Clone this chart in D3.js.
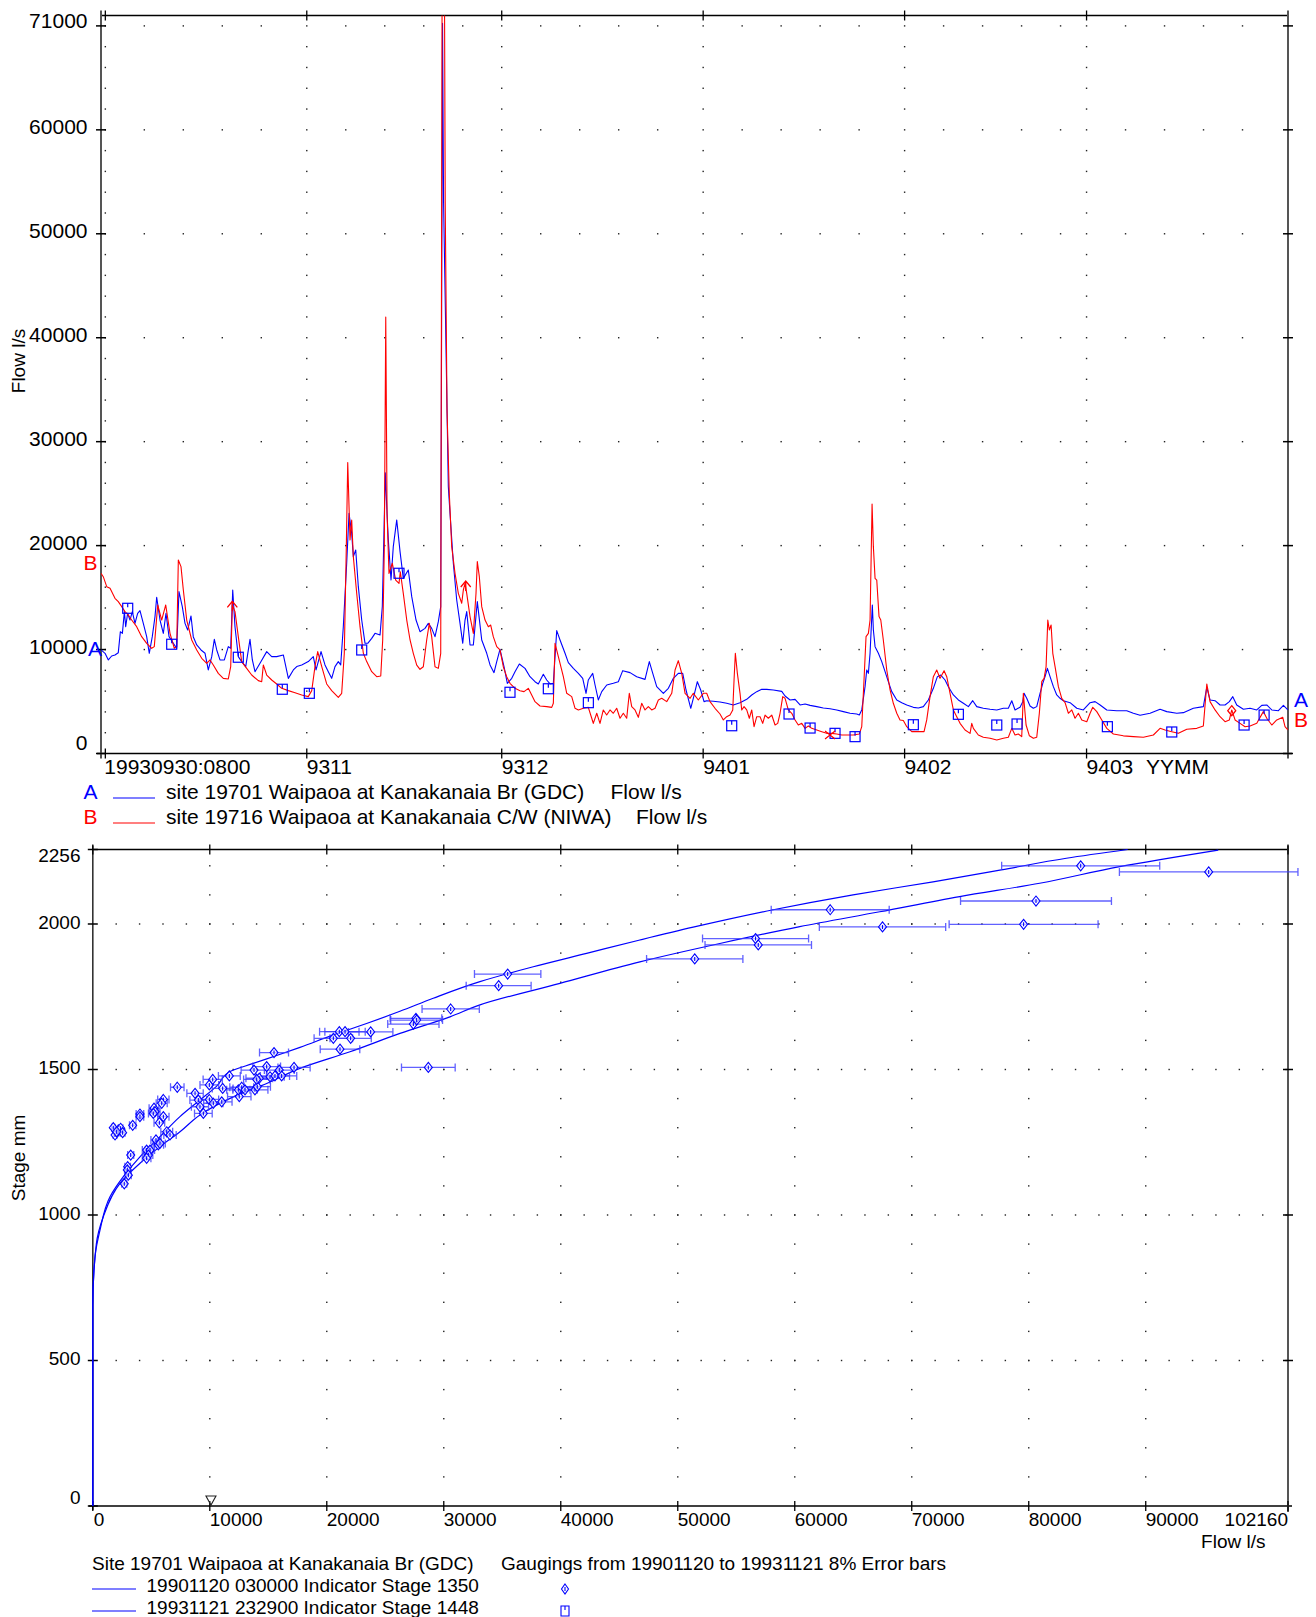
<!DOCTYPE html>
<html><head><meta charset="utf-8">
<script src="https://cdn.jsdelivr.net/npm/d3@7"></script>
<style>
body{margin:0;background:#fff;}
svg text{font-family:"Liberation Sans",Arial,sans-serif;fill:#000;}
</style></head><body>
<svg id="c" width="1316" height="1617"></svg>
<script>
// ---------- Flow record (days since 1993-09-30 08:00, flow l/s) ----------
const seriesStart = Date.UTC(1993, 8, 30, 8, 0);
const seriesEnd = Date.UTC(1994, 3, 1, 0, 0);
const monthStarts = [[1993,9],[1993,10],[1993,11],[1994,0],[1994,1],[1994,2]];
const monthLabels = ["", "9311", "9312", "9401", "9402", "9403"];
const flowTicks = [0, 10000, 20000, 30000, 40000, 50000, 60000, 70000];
const flowMax = 71000;

// A: site 19701 Waipaoa at Kanakanaia Br (GDC)
const flowA = [[0,9970],[0.62,9640],[1.13,9000],[1.64,9380],[2.15,9480],[2.66,9700],[2.98,11720],[3.29,11560],[3.6,13650],[3.8,12200],[4.1,13490],[4.46,12840],[4.82,13650],[5.23,12520],[5.64,13490],[6,13740],[6.51,12520],[7.03,11240],[7.43,9640],[7.89,11240],[8.31,13170],[8.57,15030],[9.08,12840],[9.59,11560],[10,13490],[10.47,11240],[11.13,10600],[11.65,10120],[12,15570],[12.51,14130],[12.93,12520],[13.34,11880],[13.85,13230],[14.2,11240],[14.73,10440],[15.39,9960],[16.01,9640],[16.51,8040],[17.04,9320],[17.44,10980],[17.81,9960],[18.31,9000],[18.98,9000],[19.59,10280],[19.96,10120],[20.27,15730],[20.62,12200],[21.13,9320],[21.65,8840],[22.27,8350],[22.93,10980],[23.29,9000],[23.7,7870],[24.47,8680],[25.5,9800],[26.27,9320],[27.04,9320],[28.06,9480],[28.83,7230],[29.6,8040],[30.12,8360],[30.89,8520],[31.9,8840],[32.67,9320],[33.09,8040],[33.86,9800],[34.47,8520],[34.98,7870],[35.5,7230],[36.01,8360],[36.52,8840],[36.89,8520],[37.29,12200],[37.81,18300],[38.17,23110],[38.58,21180],[38.83,18940],[39.2,19580],[39.6,16050],[40.12,12840],[40.63,10600],[41.05,10600],[41.66,11080],[42.17,11560],[42.94,11400],[43.29,14130],[43.75,27000],[44.1,22000],[44.22,20540],[44.63,16690],[44.98,19900],[45.51,22470],[46.02,19420],[46.52,16850],[47.29,17650],[47.82,15090],[48.48,12840],[49.09,11720],[49.86,12040],[50.37,12520],[50.89,12040],[51.4,11240],[51.91,12680],[52.28,14130],[52.56,70250],[52.72,53000],[53.45,25670],[53.71,23110],[54.22,18300],[54.74,14770],[55.25,12520],[55.67,10600],[56.02,12840],[56.28,13650],[56.79,10440],[57.3,10440],[57.91,14610],[58.59,10920],[59.36,9640],[59.87,8520],[60.48,7780],[60.9,8840],[61.4,10020],[62.02,8360],[62.53,6750],[63.21,7230],[63.71,7870],[64.38,8610],[65.25,8190],[66.02,7390],[66.79,6910],[67.3,6690],[68.07,7620],[68.59,7070],[69.1,6690],[69.61,6750],[70.13,11820],[70.64,10920],[71.41,9640],[71.92,8740],[72.69,8190],[73.46,7710],[74.13,7230],[74.64,5790],[74.99,7070],[75.67,7710],[76.03,6590],[76.53,5150],[77.06,5950],[77.83,6590],[78.84,6750],[79.61,6910],[80.29,7970],[81.41,7780],[82.44,7390],[83.72,7130],[84.38,8840],[84.91,7710],[85.52,6430],[86.54,5790],[87.31,6270],[88.08,7230],[88.84,7710],[89.52,7710],[90.03,6110],[90.76,4350],[91.15,5310],[91.77,6910],[92.29,6110],[92.8,4990],[93.21,5080],[94.23,5020],[95.26,4960],[96.29,4830],[97.31,4670],[98.34,4890],[99.37,5210],[100.14,5630],[100.91,5950],[101.68,6170],[102.45,6170],[103.47,6110],[104.76,5980],[105.27,5530],[106.04,5150],[106.81,5210],[107.58,4670],[108.35,4760],[109.12,4630],[110.15,4510],[111.16,4380],[112.19,4310],[113.22,4190],[114.24,4030],[115.27,3870],[116.3,3800],[116.7,3710],[117.07,4190],[117.58,6430],[117.84,8040],[118.09,7710],[118.35,9640],[118.7,14290],[118.86,11880],[119.12,10280],[119.63,9640],[120.15,8840],[120.66,7870],[121.16,6910],[121.69,5950],[122.46,5150],[123.23,4890],[124,4670],[125.01,4440],[125.78,4380],[126.55,4510],[127.32,5150],[128.09,6270],[128.71,7390],[129.23,7550],[129.89,7070],[130.4,6430],[131.17,5630],[131.94,5150],[132.71,4830],[133.48,4510],[134.15,5080],[134.77,4510],[135.78,4350],[136.82,4250],[137.85,4190],[138.86,4350],[139.63,4350],[140.16,5080],[140.66,4190],[141.43,4440],[141.85,4990],[142.05,5790],[142.46,5310],[142.97,4570],[143.48,4350],[144,4510],[144.51,5790],[144.93,6750],[145.28,7390],[145.64,8190],[146.05,7390],[146.56,6430],[147.08,5630],[147.59,5310],[148.1,5080],[149.13,4890],[150.16,4350],[151.17,4190],[152.21,4890],[152.98,4990],[153.75,4670],[154.78,4190],[156.31,4120],[157.85,4120],[158.87,3870],[159.9,3680],[161.44,3870],[162.98,4250],[164.01,4030],[165.55,3870],[166.56,3930],[168.1,4350],[169.64,4510],[170.17,6370],[170.67,5150],[171.44,5080],[172.21,4670],[172.98,4670],[173.64,4990],[174.17,5470],[174.78,4670],[175.8,4250],[176.83,4350],[177.86,4190],[178.63,4630],[179.4,4670],[180.17,4190],[181.19,4120],[181.96,4630],[182.65,4190]];

// B: site 19716 Waipaoa at Kanakanaia C/W (NIWA)
const flowB = [[0,17330],[0.35,17010],[0.88,16050],[1.39,15890],[2.15,14930],[2.66,14610],[3.19,14130],[3.69,13650],[4.2,13330],[4.72,12840],[5.49,12200],[6.26,11240],[7.03,10600],[7.8,10120],[8.2,10280],[8.73,14290],[9.34,12840],[9.96,14290],[10.62,11560],[11.28,10120],[11.65,10280],[11.9,18620],[12.31,17980],[12.67,15730],[13.19,12840],[13.96,10920],[14.73,9960],[15.5,9160],[16.27,8680],[16.78,9000],[17.28,8520],[18.05,7710],[18.82,7230],[19.59,7170],[19.96,8360],[20.21,14290],[20.62,13650],[21.13,11240],[21.65,8840],[22.42,8190],[23.19,7550],[24.21,7010],[24.73,6910],[24.98,8520],[25.5,7550],[26.27,7070],[27.04,6690],[27.81,6270],[28.83,6050],[29.86,5850],[30.89,5630],[31.9,5470],[32.43,6050],[32.93,8360],[33.35,9800],[33.97,8360],[34.73,6690],[35.5,6050],[36.52,5400],[37.04,5790],[37.44,9640],[37.75,19900],[37.97,28000],[38.32,20540],[38.58,22470],[38.83,18940],[39.35,15410],[39.86,12200],[40.37,9640],[40.89,8840],[41.66,7870],[42.43,7390],[43.05,7460],[43.35,10920],[43.6,19900],[43.82,42000],[44.02,23110],[44.32,17330],[44.83,18300],[45.35,16690],[45.86,16370],[46.06,17490],[46.52,15410],[47.05,12840],[47.56,10920],[48.06,9640],[48.59,8510],[49.09,8100],[49.6,8350],[50.12,10920],[50.52,12520],[50.89,11240],[51.4,8350],[51.91,8190],[52.28,9640],[52.5,76000],[52.85,75000],[52.97,53000],[53.25,33000],[53.6,25000],[53.97,19900],[54.48,17330],[54.99,15410],[55.51,14450],[55.76,15730],[56.02,16370],[56.28,15400],[56.79,13170],[57.3,11560],[57.71,15410],[57.91,18460],[58.22,17010],[58.59,14130],[59.1,12840],[59.61,12200],[59.97,12360],[60.37,11240],[60.9,10280],[61.4,9960],[61.91,8350],[62.43,7390],[62.94,6750],[63.71,6270],[64.48,6040],[65.1,5950],[65.76,6270],[66.28,5630],[66.79,4990],[67.56,4570],[68.59,4510],[69.36,4440],[69.61,4830],[69.87,10600],[70.38,9320],[71.15,7390],[71.67,5790],[72.44,5470],[72.95,4350],[73.46,4190],[74.23,4350],[74.99,4440],[75.52,3390],[75.76,2900],[76.29,3870],[76.79,2900],[77.3,4190],[77.82,3710],[78.33,4190],[78.84,3870],[79.36,4350],[79.87,3390],[80.38,3870],[80.9,3390],[81.3,5790],[81.67,4510],[82.18,4190],[82.69,3480],[83.21,4830],[83.72,4190],[84.23,4510],[84.75,4190],[85.26,4350],[85.77,5150],[86.29,5310],[87.06,4990],[87.83,5790],[88.34,8030],[88.84,8930],[89.37,7710],[89.88,5790],[90.65,5310],[91.15,5790],[91.92,5150],[92.69,5790],[93.21,5790],[93.72,4990],[94.49,4350],[95.26,3800],[95.77,3230],[96.29,3540],[96.8,3700],[97.22,4190],[97.42,7070],[97.62,9640],[97.93,7710],[98.34,5790],[98.6,4190],[98.96,4510],[99.37,4190],[99.77,3390],[100.14,4190],[100.5,2580],[100.91,3540],[101.42,3540],[101.83,2900],[102.19,3700],[102.7,3390],[103.22,3700],[103.73,2740],[104.14,2900],[104.5,3870],[104.91,5470],[105.27,5310],[105.77,4190],[106.3,3870],[106.81,3230],[107.31,2740],[107.84,2900],[108.35,2420],[108.85,2650],[109.38,2420],[110.15,2260],[110.92,2100],[111.68,1940],[112.45,1940],[113.22,1880],[113.99,1780],[114.76,1780],[115.78,1780],[116.7,1880],[117.07,2580],[117.42,7070],[117.73,11240],[118.09,11560],[118.35,12840],[118.66,24000],[118.86,19900],[119.12,16850],[119.38,16690],[119.73,13170],[120,12840],[120.39,10920],[120.92,8030],[121.43,6110],[121.93,4830],[122.46,3870],[122.96,3230],[123.47,3170],[124,2580],[124.77,2100],[125.54,2100],[126.66,2100],[127.07,3230],[127.58,5470],[128.09,7390],[128.61,8030],[129.12,7230],[129.74,7970],[130.15,7390],[130.66,5790],[131.17,4190],[131.69,3540],[132.2,2900],[132.97,2260],[133.74,1940],[134,2900],[134.25,2420],[135.01,1780],[135.78,1560],[136.82,1460],[137.85,1300],[138.86,1460],[139.63,1560],[140.16,2420],[140.66,1780],[141.17,1880],[141.69,1620],[141.94,5790],[142.36,2740],[142.87,1700],[143.48,1460],[144,1560],[144.4,3870],[144.77,6910],[145.13,7230],[145.44,8360],[145.7,12840],[145.94,11880],[146.21,12360],[146.47,9640],[146.82,8360],[147.33,6430],[147.85,5310],[148.36,4890],[148.87,3870],[149.39,4190],[149.9,3390],[150.41,3870],[150.93,3230],[151.7,3060],[152.21,3870],[152.62,4440],[153.24,4030],[154.01,3230],[154.78,2420],[155.79,1880],[157.33,1700],[158.87,1620],[160.41,1560],[161.95,1780],[162.98,2420],[163.75,2260],[164.78,2100],[165.8,1940],[167.09,2330],[168.63,2420],[169.64,2650],[170.17,6690],[170.67,4990],[171.44,4190],[172.21,3540],[172.98,3060],[173.64,3230],[174.01,4190],[174.52,3230],[175.29,2900],[176.06,2580],[176.83,2650],[177.86,2900],[178.87,4030],[179.4,3390],[180.17,2740],[180.94,3230],[181.86,3480],[182.21,2580],[182.65,2260]];

// gauging marks on the flow plot (days, flow)
const gaugeMarksA = [[4.11,13970],[10.88,10510],[21.13,9260],[27.9,6180],[32.06,5790],[40.12,9960],[45.86,17340],[62.94,5890],[68.84,6230],[75,4890],[97.06,2670],[105.88,3800],[109.12,2450],[112.96,1940],[116.04,1620],[125.01,2770],[131.94,3770],[137.85,2740],[140.97,2840],[154.87,2580],[164.78,2070],[175.91,2740],[178.99,3700]];
const arrowMarksB = [[20.21,14450],[56.13,16400]];
const crossMarksB = [[112.19,1780]];
const diamondMarksB = [[174.01,4120]];

// ---------- Rating curves and gaugings (flow l/s, stage mm) ----------
const stageTicks = [0, 500, 1000, 1500, 2000];
const stageMax = 2256;
const ratingFlowTicks = [0, 10000, 20000, 30000, 40000, 50000, 60000, 70000, 80000, 90000];
const ratingFlowMax = 102160;
const errorFraction = 0.08;

const rating1990 = [[0,0],[0,690],[200,860],[615,948],[1470,1063],[2610,1132],[4030,1200],[5740,1269],[7450,1338],[9160,1395],[10590,1443],[11730,1493],[13720,1521],[15710,1548],[17710,1576],[20560,1619],[23400,1658],[26250,1700],[29100,1745],[33090,1802],[37650,1853],[42205,1899],[46761,1945],[51316,1989],[58060,2048],[64983,2100],[71821,2145],[77650,2186],[83214,2226],[88453,2256]];
const rating1993 = [[0,0],[0,690],[300,900],[898,994],[2325,1109],[4034,1178],[5744,1235],[7453,1286],[9162,1344],[12009,1406],[14863,1452],[17709,1504],[21983,1561],[26256,1624],[30530,1681],[33094,1722],[39932,1796],[46761,1870],[53598,1933],[60427,1991],[67265,2042],[74094,2094],[80932,2140],[87769,2197],[96197,2254]];

const gaugings = [[1750,1300],[1900,1275],[2180,1292],[2380,1298],[2550,1283],[2040,1286],[3410,1308],[4030,1347],[4030,1338],[5230,1367],[5320,1355],[5170,1349],[6030,1397],[5890,1384],[6030,1338],[5690,1317],[6320,1286],[6600,1275],[5400,1258],[5600,1241],[5740,1246],[4600,1223],[4890,1223],[4750,1206],[4600,1195],[3240,1206],[2980,1166],[2950,1155],[3040,1137],[2690,1107],[7220,1439],[8740,1418],[9020,1395],[9160,1372],[9450,1349],[9960,1397],[10300,1384],[9960,1447],[10250,1466],[11100,1435],[11020,1389],[11670,1478],[12520,1407],[12440,1430],[12730,1439],[13010,1430],[13860,1430],[14060,1441],[14230,1470],[14010,1466],[13780,1498],[14860,1510],[15490,1558],[15150,1475],[15570,1478],[15940,1498],[16140,1478],[17200,1507],[20560,1607],[21070,1630],[21560,1630],[22040,1607],[23750,1629],[21130,1570],[28680,1507],[27400,1656],[27620,1676],[27680,1670],[30590,1708],[34690,1788],[35460,1828],[51450,1880],[56650,1950],[56880,1928],[63030,2049],[67500,1990],[79560,1999],[80620,2079],[84440,2200],[95380,2179]];
const currentFlowMark = 10100;

// ---------- drawing ----------
const svg = d3.select("#c");
const BLUE = "#0000ff", RED = "#ff0000";
const dayToDate = d => new Date(seriesStart + d * 864e5);

// ===== Flow plot =====
const tx = d3.scaleUtc().domain([new Date(seriesStart), new Date(seriesEnd)]).range([101, 1288]);
const ty = d3.scaleLinear().domain([0, flowMax]).range([753.5, 15.5]);
const flowG = svg.append("g");
const monthDates = monthStarts.map(([y, m]) => new Date(Date.UTC(y, m, 1)));

flowG.append("clipPath").attr("id", "plotclip").append("rect")
  .attr("x", tx.range()[0]).attr("y", ty(flowMax)).attr("width", tx.range()[1] - tx.range()[0]).attr("height", ty(0) - ty(flowMax));

// dotted grid
const dotG = flowG.append("g").attr("fill", "#222");
const colDates = monthDates.concat([new Date(seriesEnd)]);
colDates.forEach(dt => {
  for (let v = 2000; v <= 70000; v += 2000) {
    dotG.append("rect").attr("x", tx(dt) - 0.7).attr("y", ty(v) - 0.7).attr("width", 1.4).attr("height", 1.4);
  }
});
const rowDates = [];
monthDates.forEach((dt, i) => {
  const next = i + 1 < monthDates.length ? monthDates[i + 1] : new Date(seriesEnd);
  for (let k = 1; k <= 5; k++) {
    const t = new Date(dt.getTime() + k * 6 * 864e5);
    if (next - t > 3 * 864e5) rowDates.push(t);
  }
});
flowTicks.slice(1).forEach(v => {
  rowDates.forEach(dt => {
    dotG.append("rect").attr("x", tx(dt) - 0.7).attr("y", ty(v) - 0.7).attr("width", 1.4).attr("height", 1.4);
  });
});

// frame
const [x0, x1] = tx.range();
flowG.append("line").attr("x1", x0).attr("x2", x1).attr("y1", ty(flowMax)).attr("y2", ty(flowMax)).attr("stroke", "#000").attr("stroke-width", 1.5);
flowG.append("line").attr("x1", x0 - 4).attr("x2", x1 + 4).attr("y1", ty(0)).attr("y2", ty(0)).attr("stroke", "#000").attr("stroke-width", 1.5);
flowG.append("line").attr("x1", x0).attr("x2", x0).attr("y1", ty(flowMax) - 5).attr("y2", ty(0) + 5).attr("stroke", "#555").attr("stroke-width", 2);
flowG.append("line").attr("x1", x1).attr("x2", x1).attr("y1", ty(flowMax) - 5).attr("y2", ty(0) + 5).attr("stroke", "#555").attr("stroke-width", 2);
flowTicks.forEach(v => {
  flowG.append("line").attr("x1", x0 - 5).attr("x2", x0 + 5).attr("y1", ty(v)).attr("y2", ty(v)).attr("stroke", "#000").attr("stroke-width", 1.5);
  flowG.append("line").attr("x1", x1 - 5).attr("x2", x1 + 5).attr("y1", ty(v)).attr("y2", ty(v)).attr("stroke", "#000").attr("stroke-width", 1.5);
});
monthDates.forEach(dt => {
  [ty(0), ty(flowMax)].forEach(yy => flowG.append("line").attr("x1", tx(dt)).attr("x2", tx(dt)).attr("y1", yy - 5).attr("y2", yy + 5).attr("stroke", "#000").attr("stroke-width", 1.3));
});

// tick labels
const tl = flowG.append("g").attr("font-size", 21);
flowTicks.slice(0, -1).forEach(v => {
  tl.append("text").attr("x", 87.5).attr("y", v === 0 ? ty(v) - 4 : ty(v) + 4.5).attr("text-anchor", "end").text(v);
});
tl.append("text").attr("x", 87.5).attr("y", ty(flowMax) + 12.7).attr("text-anchor", "end").text(flowMax);
tl.append("text").attr("x", tx(monthDates[0]) - 1).attr("y", 774).text("19930930:0800");
monthDates.forEach((dt, i) => { if (monthLabels[i]) tl.append("text").attr("x", tx(dt)).attr("y", 774).text(monthLabels[i]); });
tl.append("text").attr("x", 1146).attr("y", 774).text("YYMM");
flowG.append("text").attr("font-size", 19).attr("text-anchor", "middle")
  .attr("transform", "translate(25,361) rotate(-90)").text("Flow l/s");

// series
const line = d3.line().x(d => tx(dayToDate(d[0]))).y(d => ty(d[1]));
const plot = flowG.append("g").attr("clip-path", "url(#plotclip)");
plot.append("path").datum(flowA).attr("d", line).attr("fill", "none").attr("stroke", BLUE).attr("stroke-width", 1.1).attr("stroke-linejoin", "round");
plot.append("path").datum(flowB).attr("d", line).attr("fill", "none").attr("stroke", RED).attr("stroke-width", 1.1).attr("stroke-linejoin", "round");

// marks
gaugeMarksA.forEach(([d, v]) => {
  const g = plot.append("g").attr("transform", `translate(${tx(dayToDate(d))},${ty(v)})`).attr("stroke", BLUE).attr("fill", "none").attr("stroke-width", 1.2);
  g.append("rect").attr("x", -5).attr("y", -5).attr("width", 10).attr("height", 10);
  g.append("line").attr("x1", 0).attr("x2", 0).attr("y1", -5).attr("y2", -1);
});
arrowMarksB.forEach(([d, v]) => {
  plot.append("path").attr("transform", `translate(${tx(dayToDate(d))},${ty(v)})`)
    .attr("d", "M-5,4L0,-2L5,4M0,-2V8").attr("stroke", RED).attr("fill", "none").attr("stroke-width", 1.3);
});
crossMarksB.forEach(([d, v]) => {
  plot.append("path").attr("transform", `translate(${tx(dayToDate(d))},${ty(v)})`)
    .attr("d", "M-5,-4L5,4M-5,4L5,-4").attr("stroke", RED).attr("fill", "none").attr("stroke-width", 1.2);
});
diamondMarksB.forEach(([d, v]) => {
  plot.append("path").attr("transform", `translate(${tx(dayToDate(d))},${ty(v)})`)
    .attr("d", "M0,-5L4,0L0,5L-4,0Z").attr("stroke", RED).attr("fill", "none").attr("stroke-width", 1.3);
});

// series end labels
const endA = flowA[flowA.length - 1], endB = flowB[flowB.length - 1];
flowG.append("text").attr("font-size", 21).style("fill", BLUE).attr("x", 88).attr("y", ty(flowA[0][1]) + 6).text("A");
flowG.append("text").attr("font-size", 21).style("fill", RED).attr("x", 83.5).attr("y", ty(flowB[0][1]) - 3).text("B");
flowG.append("text").attr("font-size", 21).style("fill", BLUE).attr("x", 1294).attr("y", ty(endA[1]) - 3).text("A");
flowG.append("text").attr("font-size", 21).style("fill", RED).attr("x", 1294).attr("y", ty(endB[1]) - 3).text("B");

// legend
const leg = flowG.append("g").attr("font-size", 21);
[["A", BLUE, "site 19701 Waipaoa at Kanakanaia Br (GDC)", 610.5, 799],
 ["B", RED, "site 19716 Waipaoa at Kanakanaia C/W (NIWA)", 636, 824]].forEach(([k, c, t, fx, y]) => {
  leg.append("text").attr("x", 83.5).attr("y", y).style("fill", c).text(k);
  leg.append("line").attr("x1", 113).attr("x2", 155).attr("y1", y - 1).attr("y2", y - 1).attr("stroke", c).attr("stroke-width", 1.2);
  leg.append("text").attr("x", 166).attr("y", y).text(t);
  leg.append("text").attr("x", fx).attr("y", y).text("Flow l/s");
});

// ===== Rating plot =====
const bx = d3.scaleLinear().domain([0, ratingFlowMax]).range([92.8, 1288]);
const by = d3.scaleLinear().domain([0, stageMax]).range([1506, 849.5]);
const bot = svg.append("g");
const bdots = bot.append("g").attr("fill", "#222");
ratingFlowTicks.slice(1).forEach(q => {
  for (let s = 100; s <= 2200; s += 100) bdots.append("rect").attr("x", bx(q) - 0.7).attr("y", by(s) - 0.7).attr("width", 1.4).attr("height", 1.4);
});
stageTicks.slice(1).forEach(s => {
  for (let q = 2000; q < ratingFlowMax; q += 2000) bdots.append("rect").attr("x", bx(q) - 0.7).attr("y", by(s) - 0.7).attr("width", 1.4).attr("height", 1.4);
});
const [bx0, bx1] = bx.range();
bot.append("line").attr("x1", bx0).attr("x2", bx1).attr("y1", by(stageMax)).attr("y2", by(stageMax)).attr("stroke", "#000").attr("stroke-width", 1.5);
bot.append("line").attr("x1", bx0 - 4).attr("x2", bx1 + 4).attr("y1", by(0)).attr("y2", by(0)).attr("stroke", "#000").attr("stroke-width", 1.5);
bot.append("line").attr("x1", bx0).attr("x2", bx0).attr("y1", by(stageMax) - 4).attr("y2", by(0) + 4).attr("stroke", "#333").attr("stroke-width", 1.6);
bot.append("line").attr("x1", bx1).attr("x2", bx1).attr("y1", by(stageMax) - 4).attr("y2", by(0) + 6).attr("stroke", "#555").attr("stroke-width", 2);
stageTicks.concat([stageMax]).forEach(s => {
  bot.append("line").attr("x1", bx0 - 5).attr("x2", bx0 + 5).attr("y1", by(s)).attr("y2", by(s)).attr("stroke", "#000").attr("stroke-width", 1.5);
  if (s > 0 && s < stageMax) bot.append("line").attr("x1", bx1 - 5).attr("x2", bx1 + 5).attr("y1", by(s)).attr("y2", by(s)).attr("stroke", "#000").attr("stroke-width", 1.5);
});
ratingFlowTicks.concat([ratingFlowMax]).forEach(q => {
  [by(0), by(stageMax)].forEach(yy => bot.append("line").attr("x1", bx(q)).attr("x2", bx(q)).attr("y1", yy - 5).attr("y2", yy + 5).attr("stroke", "#000").attr("stroke-width", 1.3));
});
const bl = bot.append("g").attr("font-size", 19);
stageTicks.forEach(s => bl.append("text").attr("x", 80.5).attr("y", s === 0 ? by(s) - 1.7 : by(s) + 4.8).attr("text-anchor", "end").text(s));
bl.append("text").attr("x", 80.5).attr("y", by(stageMax) + 12.3).attr("text-anchor", "end").text(stageMax);
ratingFlowTicks.forEach(q => bl.append("text").attr("x", bx(q) + (q === 0 ? 1 : 0)).attr("y", 1526).text(q));
bl.append("text").attr("x", bx(ratingFlowMax)).attr("y", 1526).attr("text-anchor", "end").text(ratingFlowMax);
bl.append("text").attr("x", 1265.5).attr("y", 1548).attr("text-anchor", "end").text("Flow l/s");
bot.append("text").attr("font-size", 19).attr("text-anchor", "middle")
  .attr("transform", "translate(25,1158) rotate(-90)").text("Stage mm");

// current flow marker
bot.append("path").attr("transform", `translate(${bx(currentFlowMark)},${by(0) - 1})`)
  .attr("d", "M-5,-9H5L0,0Z").attr("fill", "none").attr("stroke", "#222").attr("stroke-width", 1.1);

// rating curves
const rline = d3.line().x(d => bx(d[0])).y(d => by(d[1])).curve(d3.curveMonotoneY);
[rating1990, rating1993].forEach(r => bot.append("path").datum(r).attr("d", rline).attr("fill", "none").attr("stroke", BLUE).attr("stroke-width", 1.2));

// gaugings with error bars
const gg = bot.append("g");
gaugings.forEach(([q, s]) => {
  const xa = bx(q * (1 - errorFraction)), xb = bx(q * (1 + errorFraction)), yy = by(s);
  gg.append("path").attr("d", `M${xa},${yy}H${xb}M${xa},${yy - 4}V${yy + 4}M${xb},${yy - 4}V${yy + 4}`)
    .attr("stroke", "#3a3aff").attr("stroke-opacity", 0.8).attr("fill", "none").attr("stroke-width", 1.3);
});
gaugings.forEach(([q, s]) => {
  gg.append("path").attr("transform", `translate(${bx(q)},${by(s)})`)
    .attr("d", "M0,-5L4,0L0,5L-4,0ZM0,-2V2").attr("fill", "#fff").attr("fill-opacity", 0.6).attr("stroke", BLUE).attr("stroke-width", 1.1);
});

// legend
const bleg = bot.append("g").attr("font-size", 19);
bleg.append("text").attr("x", 92).attr("y", 1570).text("Site 19701 Waipaoa at Kanakanaia Br (GDC)");
bleg.append("text").attr("x", 501).attr("y", 1570).text("Gaugings from 19901120 to 19931121 8% Error bars");
[["19901120 030000 Indicator Stage 1350", 1592, 1589], ["19931121 232900 Indicator Stage 1448", 1613.5, 1611]].forEach(([t, y, ly]) => {
  bleg.append("line").attr("x1", 92).attr("x2", 136).attr("y1", ly).attr("y2", ly).attr("stroke", BLUE).attr("stroke-width", 1.2);
  bleg.append("text").attr("x", 146.5).attr("y", y).text(t);
});
bleg.append("path").attr("transform", "translate(565,1589)").attr("d", "M0,-5L3.5,0L0,5L-3.5,0ZM0,-2V2").attr("fill", "none").attr("stroke", BLUE).attr("stroke-width", 1.1);
bleg.append("path").attr("transform", "translate(565,1611)").attr("d", "M-4,-5H4V5H-4ZM0,-5V-1").attr("fill", "none").attr("stroke", BLUE).attr("stroke-width", 1.1);
</script></body></html>
